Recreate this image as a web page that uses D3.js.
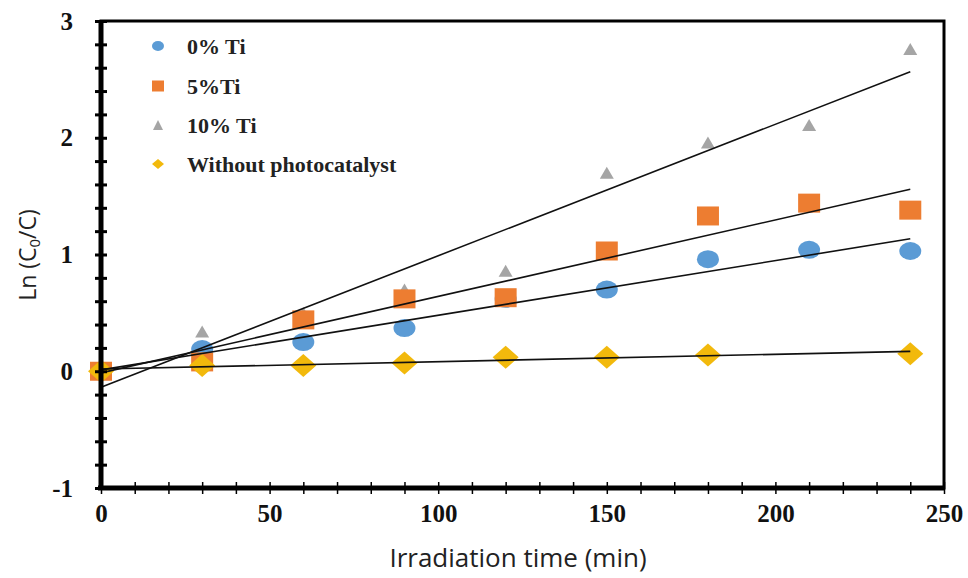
<!DOCTYPE html>
<html>
<head>
<meta charset="utf-8">
<script src="https://cdn.jsdelivr.net/npm/d3@7"></script>
<style>
  body { margin: 0; background: #fff; }
  svg { display: block; }
</style>
</head>
<body>
<svg width="968" height="578"></svg>
<script>
var svg = d3.select("svg"),
    margin = {top: 21, right: 24, bottom: 90, left: 101},
    width = +svg.attr("width") - margin.left - margin.right,
    height = +svg.attr("height") - margin.top - margin.bottom;

// data
var times = [0, 30, 60, 90, 120, 150, 180, 210, 240];
var ti0  = [0, 0.19, 0.25, 0.37, 0.62, 0.70, 0.96, 1.04, 1.03];
var ti5  = [0, 0.08, 0.44, 0.62, 0.63, 1.03, 1.33, 1.44, 1.38];
var ti10 = [0, 0.34, 0.50, 0.70, 0.86, 1.70, 1.96, 2.11, 2.76];
var noCatTimes = [0, 30, 60, 90, 120, 150, 180, 240];
var noCat = [0, 0.05, 0.05, 0.07, 0.12, 0.12, 0.14, 0.15];

var xTicks = [0, 50, 100, 150, 200, 250];
var yTicks = [-1, 0, 1, 2, 3];

var series = [
  {name: "10% Ti", t: times, v: ti10, color: "#a5a5a5", shape: "triangle", legendRow: 2},
  {name: "0% Ti", t: times, v: ti0, color: "#5b9bd5", shape: "circle", legendRow: 0},
  {name: "5%Ti", t: times, v: ti5, color: "#ed7d31", shape: "square", legendRow: 1},
  {name: "Without photocatalyst", t: noCatTimes, v: noCat, color: "#f2b90c", shape: "diamond", legendRow: 3}
];

var x = d3.scaleLinear().domain([0, 250]).range([0, width]);
var y = d3.scaleLinear().domain([-1, 3]).range([height, 0]);

var g = svg.append("g")
    .attr("transform", "translate(" + margin.left + "," + margin.top + ")");

// least squares trend line
function fit(t, v) {
  var mx = d3.mean(t), my = d3.mean(v);
  var sxy = d3.sum(t, function(d, i) { return (d - mx) * (v[i] - my); });
  var sxx = d3.sum(t, function(d) { return (d - mx) * (d - mx); });
  var b = sxy / sxx;
  return {a: my - b * mx, b: b};
}

function shapePath(shape, sx, sy) {
  if (shape === "circle") return null;
  if (shape === "square") return "M" + (-sx) + "," + (-sy) + "H" + sx + "V" + sy + "H" + (-sx) + "Z";
  if (shape === "triangle") return "M0," + (-sy) + "L" + sx + "," + sy + "L" + (-sx) + "," + sy + "Z";
  return "M0," + (-sy) + "L" + sx + ",0L0," + sy + "L" + (-sx) + ",0Z";
}

var sizes = {
  circle: [11, 9], square: [11, 9.5], triangle: [7, 6], diamond: [13, 11.5]
};

// markers
series.forEach(function(s) {
  var pts = s.t.map(function(d, i) { return [d, s.v[i]]; });
  var sz = sizes[s.shape];
  var sel = g.append("g").selectAll(".m").data(pts).enter();
  if (s.shape === "circle") {
    sel.append("ellipse")
      .attr("cx", function(d) { return x(d[0]); })
      .attr("cy", function(d) { return y(d[1]); })
      .attr("rx", sz[0]).attr("ry", sz[1])
      .style("fill", s.color);
  } else {
    sel.append("path")
      .attr("d", shapePath(s.shape, sz[0], sz[1]))
      .attr("transform", function(d) { return "translate(" + x(d[0]) + "," + y(d[1]) + ")"; })
      .style("fill", s.color);
  }
});

// trend lines
series.forEach(function(s) {
  var f = fit(s.t, s.v);
  var ends = [0, 240];
  g.append("line")
    .attr("x1", x(ends[0])).attr("y1", y(f.a + f.b * ends[0]))
    .attr("x2", x(ends[1])).attr("y2", y(f.a + f.b * ends[1]))
    .style("stroke", "#111")
    .style("stroke-width", 1.6);
});

// frame
g.append("rect")
  .attr("width", width).attr("height", height)
  .style("fill", "none").style("stroke", "#000").style("stroke-width", 3);

// crossing minor ticks
var yMinor = d3.range(-1, 3.001, 0.2);
var xMinor = d3.range(0, 250.001, 10);
[6, -6].forEach(function(s) {
  g.append("g").call(d3.axisLeft(y).tickValues(yMinor).tickSize(s).tickFormat(""))
    .call(function(a) { a.select(".domain").remove(); a.selectAll("line").style("stroke-width", 3); });
  g.append("g").attr("transform", "translate(0," + height + ")")
    .call(d3.axisBottom(x).tickValues(xMinor).tickSize(s).tickFormat(""))
    .call(function(a) { a.select(".domain").remove(); a.selectAll("line").style("stroke-width", 1.5); });
});

// thick axes
g.append("line").attr("x1", 0).attr("x2", 0).attr("y1", 0).attr("y2", height)
  .style("stroke", "#000").style("stroke-width", 5);
g.append("line").attr("x1", -3).attr("x2", width).attr("y1", height).attr("y2", height)
  .style("stroke", "#000").style("stroke-width", 5);

// tick labels
var yAxis = g.append("g")
  .call(d3.axisLeft(y).tickValues(yTicks).tickSize(0).tickPadding(28).tickFormat(function(d) { return String(d); }));
yAxis.select(".domain").remove();
yAxis.selectAll("text")
  .style("font-family", "'Liberation Serif', 'DejaVu Serif', serif")
  .style("font-weight", "bold").style("font-size", "25px").style("fill", "#111");

var xAxis = g.append("g").attr("transform", "translate(0," + height + ")")
  .call(d3.axisBottom(x).tickValues(xTicks).tickSize(0).tickPadding(16));
xAxis.select(".domain").remove();
xAxis.selectAll("text")
  .style("font-family", "'Liberation Serif', 'DejaVu Serif', serif")
  .style("font-weight", "bold").style("font-size", "25px").style("fill", "#111");

// axis titles
svg.append("text")
  .attr("x", 518).attr("y", 567)
  .attr("text-anchor", "middle")
  .style("font-family", "'Open Sans', sans-serif")
  .style("font-size", "26px").style("fill", "#222")
  .text("Irradiation time (min)");

var yt = svg.append("text")
  .attr("transform", "translate(36,255) rotate(-90)")
  .attr("text-anchor", "middle")
  .style("font-family", "'Open Sans', sans-serif")
  .style("font-size", "23px").style("fill", "#222");
yt.append("tspan").text("Ln (C");
yt.append("tspan").attr("dy", 4).style("font-size", "15px").text("0");
yt.append("tspan").attr("dy", -4).text("/C)");

// legend
var legend = svg.append("g");
var rowY = [46, 86, 125, 164];
var lsz = {circle: [6, 5], square: [6, 5.5], triangle: [5, 5], diamond: [6, 5]};
series.forEach(function(s) {
  var yy = rowY[s.legendRow];
  var sz = lsz[s.shape];
  if (s.shape === "circle") {
    legend.append("ellipse").attr("cx", 158).attr("cy", yy)
      .attr("rx", sz[0]).attr("ry", sz[1]).style("fill", s.color);
  } else {
    legend.append("path").attr("d", shapePath(s.shape, sz[0], sz[1]))
      .attr("transform", "translate(158," + yy + ")").style("fill", s.color);
  }
  legend.append("text")
    .attr("x", 187).attr("y", yy).attr("dy", "0.35em")
    .style("font-family", "'Liberation Serif', 'DejaVu Serif', serif")
    .style("font-weight", "bold").style("font-size", "22px").style("fill", "#222")
    .text(s.name);
});
</script>
</body>
</html>
